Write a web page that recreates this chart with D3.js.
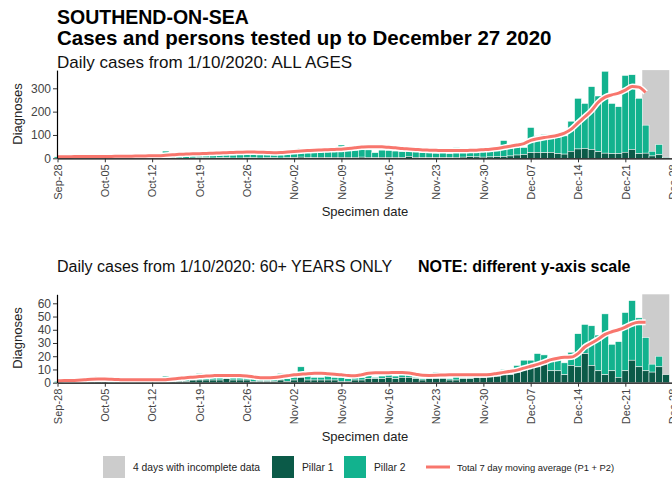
<!DOCTYPE html>
<html><head><meta charset="utf-8">
<script src="https://cdn.jsdelivr.net/npm/d3@7"></script>
<style>
html,body{margin:0;padding:0;background:#fff;overflow:hidden;width:672px;height:485px;}
svg{display:block;font-family:"Liberation Sans",Arial,sans-serif;}
</style></head>
<body>
<script>
// ---- Data (Sep-28 .. Dec-27 2020, one value per day) ----
const startDate = "2020-09-28";
const tickLabels = ["Sep-28","Oct-05","Oct-12","Oct-19","Oct-26","Nov-02","Nov-09","Nov-16","Nov-23","Nov-30","Dec-07","Dec-14","Dec-21","Dec-28"];

const allPillar1 = [0,1,0,1,0,0,1, 1,0,1,1,0,1,0, 1,1,1,1,1,0,1, 2,2,1,2,2,1,1, 2,2,1,2,2,1,2,
  3,5,3,3,4,3,4, 4,4,4,5,4,3,4, 4,4,3,8,4,3,3, 3,3,3,4,5,7,6, 5,6,7,8,10,14,16,
  24,25,24,25,20,18,30, 40,42,38,28,22,20,20, 26,38,20,22,10,15,3];
const allPillar2 = [6,4,7,5,5,4,6, 7,7,8,7,6,6,8, 9,8,30,11,13,11,11, 13,15,15,13,16,13,15, 18,17,16,14,16,14,15,
  19,39,21,23,24,27,27, 53,29,31,33,32,21,31, 30,27,26,22,24,22,20, 19,21,18,42,21,18,22, 25,27,31,68,38,36,30,
  108,71,78,77,78,78,129, 217,193,269,239,351,215,201, 329,320,237,120,20,44,2];
const allAvg = [7,7,7,8,8,8,8, 8,8,9,9,9,10,10, 11,11,13,15,17,18,19, 20,21,22,23,24,25,26, 27,27,26,25,24,25,27,
  29,31,33,35,36,37,38, 39,42,45,48,50,50,49, 47,45,42,40,38,36,35, 34,33,33,33,33,34,35, 37,39,42,47,52,57,63,
  77,84,89,93,99,108,125, 152,178,205,240,262,272,279, 292,308,305,282];

const oldPillar1 = [0,1,0,1,0,1,1, 1,0,1,1,0,1,1, 0,1,1,1,1,1,2, 2,2,2,2,3,2,2, 2,1,1,1,1,2,1,
  2,4,2,2,2,2,2, 1,1,2,2,3,3,3, 4,3,4,4,3,2,3, 3,3,2,2,3,3,4, 4,5,5,6,6,8,10,
  12,12,15,9,9,6,13, 12,22,13,9,6,9,4, 9,17,12,9,8,12,6];
const oldPillar2 = [1,1,1,1,1,1,4, 1,1,1,1,1,2,1, 1,1,4,1,2,2,2, 5,2,3,2,2,4,2, 3,3,2,4,2,5,2,
  5,8,3,2,2,4,2, 3,2,5,2,6,1,2, 2,2,2,5,1,1,1, 5,1,1,6,1,1,1, 1,1,1,4,2,5,7,
  5,10,6,10,10,9,10, 25,22,30,27,46,20,27, 44,45,37,25,6,8,0];
const oldAvg = [1.5,1.6,1.7,1.9,2.2,2.6,2.8, 2.8,2.6,2.4,2.2,2.2,2.2,2.2, 2.2,2.2,2.3,2.8,3.3,3.8,4.2,
  4.6,5.0,5.3,5.5,5.5,5.5,5.4, 5.0,4.4,3.8,3.8,4.0,4.5,5.2, 6.0,6.4,6.8,7.1,7.2,6.8,6.4,
  6.0,5.4,5.2,6.0,7.2,7.6,7.6, 7.6,7.7,7.7,7.4,6.4,5.6,5.5, 5.6,5.8,6.0,6.0,6.0,6.0,6.0,
  6.0,6.2,7.0,7.8,8.6,9.5,11.0, 12.4,13.8,15.5,17.4,18.5,19.2,19.4, 22,27,30,33,36.5,38.5,40,
  42,44.5,45.6,45.6];
const incompleteDays = 4;
const allTicks = [0,100,200,300];
const oldTicks = [0,10,20,30,40,50,60];

// ---- Styles ----
const C_P1 = "#0b5a48", C_P2 = "#12b28e", C_AVG = "#f8766d", C_GREY = "#cccccc";
const FONT = '"Liberation Sans",Arial,sans-serif';

const svg = d3.select("body").append("svg").attr("width", 700).attr("height", 485);

const t0 = new Date(startDate + "T00:00:00Z");
const dates = d3.range(allPillar1.length).map(i => d3.utcDay.offset(t0, i));
const tickDates = tickLabels.map((_, i) => d3.utcDay.offset(t0, i * 7));
const x = d3.scaleUtc().domain([t0, d3.utcDay.offset(t0, 91)]).range([57.5, 57.5 + 91 * 6.76]);
const halfDay = 6.76 / 2;
const dayW = 6.76;

function panel(p1, p2, avg, yMax, yRange, ticks) {
  const y = d3.scaleLinear().domain([0, yMax]).range(yRange);
  const g = svg.append("g");
  const n = p1.length;
  const gs = dates[n - incompleteDays];
  g.append("rect").attr("x", x(gs) - halfDay).attr("y", yRange[1])
    .attr("width", incompleteDays * dayW).attr("height", yRange[0] - yRange[1]).attr("fill", C_GREY);
  const data = dates.map((d, i) => ({d, a: p1[i], b: p2[i]}));
  g.selectAll(".p2").data(data).join("rect")
    .attr("x", d => x(d.d) - halfDay).attr("width", dayW)
    .attr("y", d => y(d.a + d.b)).attr("height", d => y(0) - y(d.b))
    .attr("fill", C_P2).attr("stroke", "#fff").attr("stroke-width", 0.5);
  g.selectAll(".p1").data(data).join("rect")
    .attr("x", d => x(d.d) - halfDay).attr("width", dayW)
    .attr("y", d => y(d.a)).attr("height", d => y(0) - y(d.a))
    .attr("fill", C_P1).attr("stroke", "#fff").attr("stroke-width", 0.5);
  const line = d3.line().x((d, i) => x(dates[i])).y(d => y(d)).curve(d3.curveMonotoneX);
  g.append("path").attr("d", line(avg)).attr("fill", "none").attr("stroke", "#fff").attr("stroke-width", 6).attr("stroke-linejoin", "round");
  g.append("path").attr("d", line(avg)).attr("fill", "none").attr("stroke", C_AVG).attr("stroke-width", 3).attr("stroke-linejoin", "round");
  const ya = g.append("g").attr("transform", "translate(57,0)")
    .call(d3.axisLeft(y).tickValues(ticks).tickSize(4).tickSizeOuter(0).tickPadding(2));
  ya.select(".domain").attr("stroke", "#000").attr("stroke-width", 1.2);
  ya.selectAll(".tick line").attr("stroke", "#333");
  ya.selectAll(".tick text").attr("font-size", 12).attr("fill", "#444").attr("font-family", FONT);
  const xa = g.append("g").attr("transform", `translate(0,${yRange[0]})`)
    .call(d3.axisBottom(x).tickValues(tickDates).tickFormat((d, i) => tickLabels[i]).tickSize(4).tickSizeOuter(0));
  xa.select(".domain").attr("stroke", "#000").attr("stroke-width", 1.2);
  xa.selectAll(".tick line").attr("stroke", "#333");
  xa.selectAll(".tick text").attr("font-size", 11).attr("fill", "#444").attr("font-family", FONT)
    .attr("transform", "rotate(-90)").attr("text-anchor", "end").attr("x", 0).attr("y", 0)
    .attr("dy", "0.35em").attr("dx", "-6");
  return y;
}

panel(allPillar1, allPillar2, allAvg, 378, [158.3, 70.1], allTicks);
panel(oldPillar1, oldPillar2, oldAvg, 66.8, [382.7, 294.3], oldTicks);

function txt(s, xx, yy, size, opts = {}) {
  const t = svg.append("text").attr("x", xx).attr("y", yy).attr("font-size", size)
    .attr("font-family", FONT).attr("fill", opts.fill || "#111").text(s);
  if (opts.bold) t.attr("font-weight", "bold");
  if (opts.anchor) t.attr("text-anchor", opts.anchor);
  if (opts.rotate) t.attr("transform", `rotate(-90,${xx},${yy})`);
  return t;
}
txt("SOUTHEND-ON-SEA", 57, 24, 19.5, {bold: true, fill: "#000"});
txt("Cases and persons tested up to December 27 2020", 57, 45, 20.5, {bold: true, fill: "#000"});
txt("Daily cases from 1/10/2020: ALL AGES", 57, 68, 17);
txt("Daily cases from 1/10/2020: 60+ YEARS ONLY", 57, 272, 16);
txt("NOTE: different y-axis scale", 418, 272, 16, {bold: true, fill: "#000"});
txt("Diagnoses", 22, 114, 13, {anchor: "middle", rotate: true, fill: "#222"});
txt("Diagnoses", 22, 338, 13, {anchor: "middle", rotate: true, fill: "#222"});
txt("Specimen date", 365, 216, 13, {anchor: "middle", fill: "#222"});
txt("Specimen date", 365, 441, 13, {anchor: "middle", fill: "#222"});

const legendItems = ["4 days with incomplete data", "Pillar 1", "Pillar 2", "Total 7 day moving average (P1 + P2)"];
const lg = svg.append("g");
const lx = [103, 272, 344, 426];
[C_GREY, C_P1, C_P2].forEach((c, i) => {
  lg.append("rect").attr("x", lx[i]).attr("y", 456).attr("width", 22).attr("height", 22).attr("fill", c);
  txt(legendItems[i], lx[i] + 30, 471, 10.3, {fill: "#222"});
});
lg.append("line").attr("x1", lx[3]).attr("x2", lx[3] + 24).attr("y1", 467).attr("y2", 467).attr("stroke", C_AVG).attr("stroke-width", 3);
txt(legendItems[3], lx[3] + 31, 471, 9.4, {fill: "#222"});
</script>
</body></html>
